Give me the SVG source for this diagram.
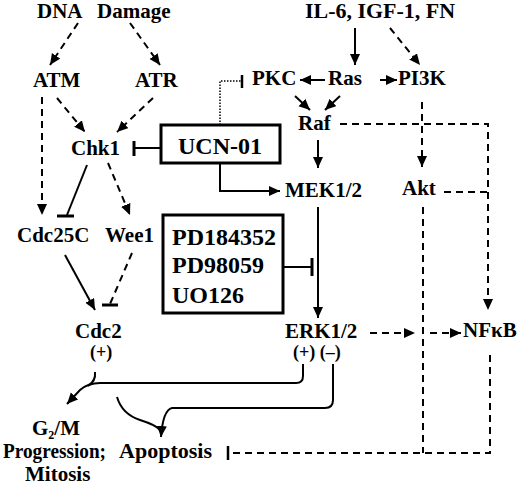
<svg xmlns="http://www.w3.org/2000/svg" width="520" height="485" viewBox="0 0 520 485">
<defs>
<marker id="arr" markerUnits="userSpaceOnUse" markerWidth="12" markerHeight="12" refX="11" refY="5" orient="auto">
<path d="M0,0 L11,5 L0,10 z" fill="#000"/>
</marker>
<style>
text{font-family:'Liberation Serif','Times New Roman',Times,'DejaVu Serif',serif;font-weight:700;font-size:21px;fill:#000}
.box{fill:none;stroke:#000;stroke-width:3}
.big{font-size:24px}
.sign{font-size:18px}
.s{fill:none;stroke:#000;stroke-width:2}
.d{fill:none;stroke:#000;stroke-width:2;stroke-dasharray:7,5}
.dot{fill:none;stroke:#000;stroke-width:1.5;stroke-dasharray:1.5,1.5}
.bar{fill:none;stroke:#000;stroke-width:3}
.a{marker-end:url(#arr)}
</style>
</defs>
<rect width="520" height="485" fill="#fff"/>

<g id="dna"><text x="37" y="18">DNA</text><text x="97" y="18">Damage</text></g>
<g id="il6"><text x="305" y="18" textLength="150" lengthAdjust="spacingAndGlyphs">IL-6, IGF-1, FN</text></g>
<g id="atm"><text x="33" y="87">ATM</text></g>
<g id="atr"><text x="135" y="87">ATR</text></g>
<g id="pkc"><text x="252" y="85">PKC</text></g>
<g id="ras"><text x="328" y="85">Ras</text></g>
<g id="pi3k"><text x="398" y="85">PI3K</text></g>
<g id="raf"><text x="298" y="130">Raf</text></g>
<g id="chk1"><text x="71" y="155">Chk1</text></g>
<g id="ucn01"><rect class="box" x="161" y="125" width="119" height="38"/><text class="big" x="178" y="154">UCN-01</text></g>
<g id="mek"><text x="285" y="197">MEK1/2</text></g>
<g id="akt"><text x="402" y="195">Akt</text></g>
<g id="cdc25c"><text x="17" y="242">Cdc25C</text></g>
<g id="wee1"><text x="105" y="242">Wee1</text></g>
<g id="pd"><rect class="box" x="163" y="215" width="120" height="98"/>
<text class="big" x="172" y="245">PD184352</text>
<text class="big" x="172" y="273">PD98059</text>
<text class="big" x="172" y="303">UO126</text></g>
<g id="cdc2"><text x="75" y="338">Cdc2</text><text class="sign" x="90" y="358">(+)</text></g>
<g id="erk"><text x="285" y="338">ERK1/2</text><text class="sign" x="293" y="358">(+) (–)</text></g>
<g id="nfkb"><text x="463" y="337">NFκB</text></g>
<g id="g2m"><text x="32" y="435" font-size="19">G<tspan font-size="12" dy="4">2</tspan><tspan dy="-4">/M</tspan></text>
<text x="3" y="458" font-size="20" textLength="103" lengthAdjust="spacingAndGlyphs">Progression;</text>
<text x="25" y="481" font-size="19">Mitosis</text></g>
<g id="apoptosis"><text x="119" y="458" textLength="93" lengthAdjust="spacingAndGlyphs">Apoptosis</text></g>

<g id="connectors">
<path class="d a" d="M78,23 L50,65"/>
<path class="d a" d="M130,23 L160,65"/>
<path class="d a" d="M57,98 L85,132"/>
<path class="d a" d="M153,98 L117,132"/>
<path class="d a" d="M42,97 L42,215"/>
<path class="s" d="M161,148 L134,148"/><path class="bar" d="M134,141 V156"/>
<path class="dot" d="M220,125 V81 H241"/><path class="bar" d="M242,75 V88" style="stroke-width:2.5"/>
<path class="s a" d="M325,80 L300,80"/>
<path class="d a" d="M380,80 L397,80"/>
<path class="s a" d="M355,28 L355,65"/>
<path class="d a" d="M390,28 L420,65"/>
<path class="s a" d="M295,96 L310,110"/>
<path class="s a" d="M340,96 L325,110"/>
<path class="s a" d="M318,140 L318,168"/>
<path class="s a" d="M220,163 V191 H280"/>
<path class="d a" d="M340,124 H488 V310"/>
<path class="d a" d="M422,102 V167"/>
<path class="d" d="M444,192 H488"/>
<path class="s a" d="M318,207 V318"/>
<path class="s" d="M283,267 H312"/><path class="bar" d="M312,258 V276"/>
<path class="d a" d="M370,333 H415"/>
<path class="d a" d="M430,333 H461"/>
<path class="d" d="M423,207 V453"/>
<path class="d" d="M490,355 V453 H232"/><path class="bar" d="M228,446 V460" style="stroke-width:2.5"/>
<path class="s" d="M87,165 L67,215"/><path class="bar" d="M57,216 H74"/>
<path class="d a" d="M108,163 L130,215"/>
<path class="s a" d="M65,255 L95,310"/>
<path class="d" d="M132,253 L110,304"/><path class="bar" d="M102,305 H118"/>
<path class="s" d="M95,372 Q96,381 88,386"/>
<path class="s a" d="M303,364 V376 Q303,383 296,383 H100 Q88,383 80,390 L67,404"/>
<path class="s a" d="M333,364 V400 Q333,408 325,408 H172 Q163,410 161,437"/>
<path class="s" d="M117,397 Q122,414 140,420 Q156,425 160,430"/>
</g>
</svg>
